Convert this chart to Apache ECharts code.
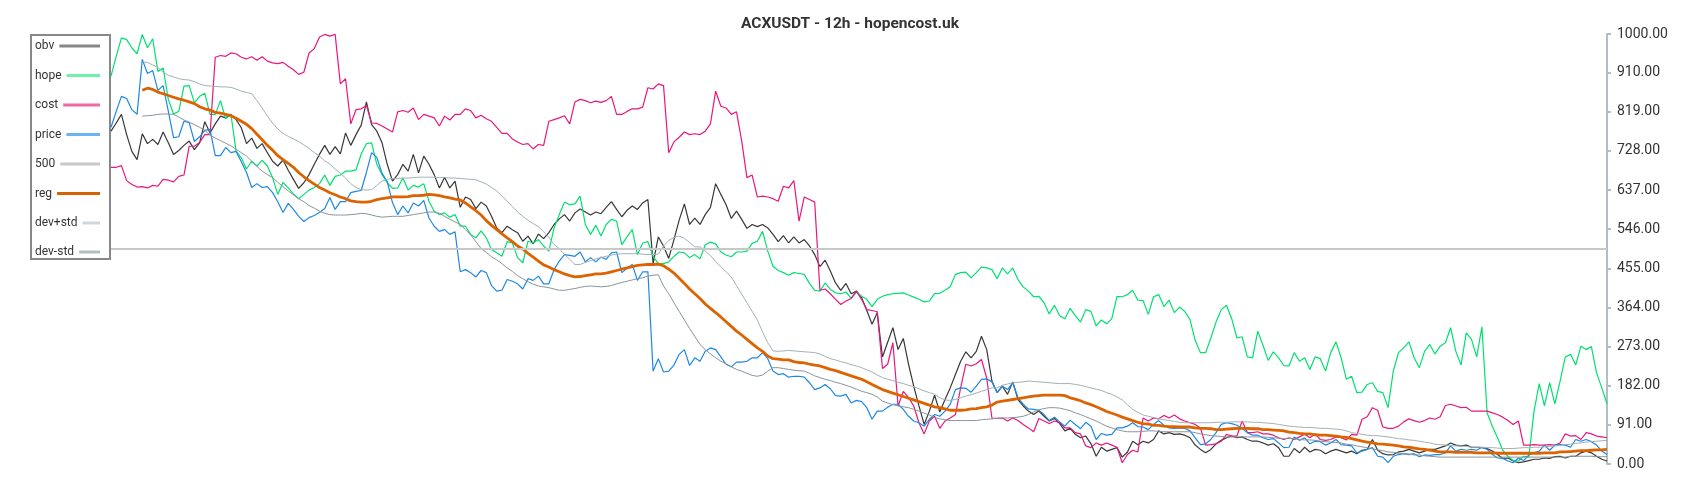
<!DOCTYPE html>
<html>
<head>
<meta charset="utf-8">
<title>ACXUSDT - 12h - hopencost.uk</title>
<script src="https://cdn.jsdelivr.net/npm/echarts@6/dist/echarts.min.js"></script>
<style>
  html, body { margin: 0; padding: 0; background: #fff; }
  #chart { width: 1700px; height: 500px; }
</style>
</head>
<body>
<div id="chart"></div>
<script>
// all series are on the 0..1000 scale, one value per 12h candle (288 candles)
const obv = [
  774,793,813,766,727,708,768,745,755,743,772,747,720,729,741,751,731,747,796,770,791,809,805,813,801,782,745,758,734,745,
  724,704,693,707,683,662,641,654,673,697,720,741,720,738,721,770,741,766,788,842,789,774,747,697,658,673,697,
  681,720,677,716,697,673,642,667,642,658,597,621,615,594,609,600,576,549,538,553,545,538,518,530,512,535,524,538,557,570,
  580,565,584,593,586,579,586,582,597,610,592,575,590,600,592,607,615,466,528,507,478,522,567,605,557,572,
  557,580,597,652,627,603,571,588,569,548,557,552,557,549,534,517,531,514,528,514,522,507,487,459,474,449,421,404,420,396,
  402,387,357,325,352,249,283,317,266,292,232,181,135,92,123,160,121,150,177,208,239,261,247,262,297,266,193,
  166,181,162,191,150,135,123,115,123,111,100,106,94,77,83,69,61,65,47,18,39,30,34,38,16,28,53,45,53,49,
  57,77,70,73,69,70,67,61,44,34,26,34,47,55,61,65,61,63,57,53,53,49,44,47,38,18,
  18,36,26,39,28,34,32,24,30,34,30,26,30,24,32,34,57,32,24,21,22,28,30,34,30,26,30,34,34,38,
  42,49,44,42,44,39,39,38,36,30,22,13,14,7,3,5,8,11,11,14,13,17,18,14,18,18,26,30,26,18,11,7
];
const hope = [
  902,948,991,987,968,954,999,968,989,913,921,848,814,820,879,880,840,855,862,813,813,845,803,814,727,712,686,704,693,706,
  693,666,627,655,642,628,617,627,637,643,652,672,648,669,672,681,681,684,721,745,747,697,673,654,641,642,665,
  637,648,644,652,611,588,580,584,574,580,553,553,534,526,542,526,499,491,483,517,514,480,468,518,514,522,507,495,549,580,
  609,603,605,623,557,534,555,530,557,569,565,510,528,545,487,514,517,483,466,466,470,483,493,491,480,487,
  477,510,516,512,493,486,482,493,493,495,513,518,541,495,460,450,445,439,445,443,441,420,404,402,421,406,398,396,400,385,
  400,390,383,366,383,390,394,396,397,398,393,388,383,377,379,396,397,404,412,441,445,446,433,445,458,456,452,
  431,456,442,456,429,412,402,389,390,375,349,369,345,338,362,345,330,359,355,321,335,326,338,390,389,394,404,381,380,348,
  389,394,366,381,352,365,355,336,287,259,259,293,330,359,369,338,293,296,249,247,309,276,241,261,247,229,
  228,259,239,247,220,249,245,216,259,284,247,197,204,166,167,185,189,169,166,131,216,259,270,284,247,224,262,278,256,274,
  282,317,262,230,305,290,249,319,119,88,61,32,18,8,7,18,16,123,187,135,189,140,193,249,255,230,274,266,273,212,177,140
];
const cost = [
  690,690,694,659,650,644,645,642,648,646,662,660,656,669,672,739,739,748,766,766,946,950,948,956,954,946,942,947,939,947,
  937,933,931,934,925,917,906,911,956,966,993,999,995,999,884,896,791,824,826,834,793,792,786,779,772,819,822,
  818,828,801,813,809,805,786,809,800,813,813,826,822,805,811,803,797,783,769,769,756,749,743,745,733,743,741,797,801,805,
  810,791,842,848,845,840,844,841,845,855,813,813,820,826,826,830,875,872,884,880,724,749,760,772,766,768,
  766,774,791,867,832,828,813,819,751,666,672,621,623,621,617,611,646,642,659,565,621,615,609,404,407,396,383,371,379,385,
  402,383,359,357,354,222,232,282,135,169,155,135,96,70,100,111,83,100,107,115,177,232,228,233,243,200,107,
  106,107,100,107,101,92,84,75,106,100,94,100,96,84,84,73,70,42,38,49,44,49,44,39,3,22,32,28,107,100,
  107,105,113,107,114,105,100,96,92,84,44,45,47,53,69,65,65,100,73,73,75,70,70,67,61,57,
  61,57,63,69,61,70,57,55,57,63,61,56,69,67,104,110,131,125,86,83,83,88,98,105,101,97,101,107,104,110,
  136,139,135,131,132,123,123,123,123,119,115,109,101,92,100,44,44,45,44,44,45,44,49,70,65,66,57,73,70,65,63,61
];
const price = [
  783,820,855,850,824,813,941,908,915,869,880,820,759,761,797,794,750,761,776,778,717,717,736,724,727,703,678,643,652,643,
  645,631,610,585,606,592,576,564,573,578,585,594,620,592,610,610,631,634,636,678,724,713,676,657,608,580,600,
  584,607,600,613,572,553,541,545,534,540,447,452,445,435,450,445,415,402,404,429,425,419,407,431,427,437,419,419,452,472,
  487,485,483,493,470,480,470,481,476,491,493,445,455,464,427,447,447,216,245,214,216,230,255,266,229,247,
  239,262,270,266,249,232,226,237,237,239,247,247,259,245,216,208,210,202,204,204,202,189,173,177,185,175,159,158,162,142,
  148,145,131,104,123,123,132,139,139,127,111,100,96,88,104,115,111,123,139,173,177,176,167,181,197,198,191,
  166,181,173,189,154,139,128,127,125,115,101,109,98,88,102,92,82,97,88,57,71,67,69,84,84,88,96,87,86,80,
  92,101,90,84,83,84,83,77,61,45,47,57,73,92,96,94,90,83,73,67,67,61,57,59,49,38,
  39,63,55,61,47,53,52,44,49,57,45,44,42,26,30,34,38,18,16,3,18,22,24,22,24,17,21,20,22,22,
  26,42,30,34,32,34,32,39,34,22,14,13,7,3,14,8,21,26,30,44,32,44,45,44,39,57,53,57,52,44,30,22
];
const reg = [
  null,null,null,null,null,null,
  869,874,871,865,861,857,853,849,846,842,838,831,826,823,818,816,813,810,804,797,790,780,767,754,
  741,730,717,708,699,690,678,668,659,651,643,637,631,626,621,617,612,610,609,609,611,615,617,619,621,621,621,
  622,624,624,625,627,626,624,621,619,616,614,607,598,589,579,566,555,545,535,526,517,507,500,490,481,472,463,458,452,447,
  442,438,435,436,438,440,442,442,444,447,450,453,456,459,462,463,464,464,465,461,453,444,432,420,407,396,
  385,372,362,352,342,331,320,309,300,290,280,270,262,251,245,244,242,242,238,236,235,232,230,228,224,220,217,213,209,205,
  201,197,191,185,179,173,169,165,161,157,153,149,145,141,137,133,131,128,125,125,125,126,128,129,131,133,137,
  144,146,148,150,152,154,156,158,159,160,160,160,160,159,154,151,147,142,138,133,128,122,118,114,109,105,101,97,94,93,
  90,90,88,87,87,86,86,86,84,83,83,82,80,80,81,82,83,83,83,82,82,80,80,79,78,77,
  74,73,71,70,70,68,67,67,66,65,63,62,59,56,53,51,49,47,46,45,44,42,40,39,37,35,34,32,30,28,
  28,28,27,27,27,27,26,26,26,26,25,25,25,25,25,25,25,25,25,26,26,26,28,28,29,30,31,31,32,33,33,34
];
const devPlus = [
  null,null,null,null,null,null,
  935,934,928,922,911,904,900,896,894,893,889,884,880,879,878,877,877,876,872,867,864,861,845,828,
  809,793,779,769,762,756,750,742,734,724,716,705,697,686,676,665,652,643,638,637,638,648,658,662,664,664,665,
  665,666,667,667,667,667,666,666,665,665,664,663,662,661,656,651,643,635,623,611,599,586,576,567,559,552,540,528,510,501,
  487,476,464,464,469,473,477,480,483,486,488,489,489,489,489,488,487,487,488,507,520,527,530,525,515,505,
  505,495,485,471,459,447,435,415,395,375,355,335,307,282,263,262,263,264,263,262,261,260,259,256,250,245,242,238,235,231,
  228,224,219,214,207,201,197,194,190,187,183,180,175,170,166,162,154,149,148,150,154,158,161,165,169,173,177,
  177,183,186,189,190,191,193,192,191,190,189,188,187,187,187,185,183,180,177,174,171,166,162,156,149,138,127,120,114,111,
  108,105,103,101,99,97,96,96,96,96,96,96,97,97,97,98,98,98,98,97,97,96,95,94,92,90,
  88,87,86,85,85,84,83,83,82,81,80,77,73,71,69,67,66,66,64,63,61,59,58,56,55,53,51,49,46,45,
  44,43,42,42,41,39,39,39,38,38,37,36,36,36,37,38,38,39,39,40,41,42,43,45,46,48,49,51,52,53,54,55
];
const devMinus = [
  null,null,null,null,null,null,
  809,810,811,813,814,814,813,807,800,795,789,783,776,765,758,752,746,740,732,724,716,704,692,681,
  673,666,655,645,635,626,617,610,601,595,588,583,580,579,579,579,580,581,583,582,579,576,574,575,576,576,576,
  578,580,582,584,586,586,583,576,569,563,557,545,533,517,501,492,482,475,466,456,448,438,431,424,418,414,412,410,407,404,
  404,406,408,411,413,414,413,412,413,415,419,422,425,428,431,433,437,439,440,414,396,375,355,335,315,297,
  278,266,256,247,239,233,226,220,216,211,206,204,207,216,224,224,222,220,218,217,216,211,205,201,197,194,190,187,183,179,
  174,169,166,162,156,146,142,138,135,133,131,127,123,118,114,108,105,103,101,101,101,101,101,101,103,104,105,
  106,107,107,108,109,111,115,121,126,129,131,131,130,127,124,119,115,110,105,100,94,88,84,80,77,75,75,75,76,77,
  77,76,75,75,75,75,75,75,73,70,68,66,65,64,63,63,63,63,63,63,63,63,62,61,60,59,
  60,59,57,56,56,55,53,52,51,50,49,46,45,42,40,38,35,33,31,28,27,25,24,23,21,21,19,18,17,16,
  16,16,16,16,16,16,16,16,16,16,16,16,16,16,16,16,16,16,16,16,16,16,16,16,18,18,18,18,18,17,17,17
];
const level500 = 500;
const yMin = 0, yMax = 1000, yStep = 91;

const chart = echarts.init(document.getElementById('chart'));

// name, line colour, line width, legend icon colour
const defs = [
  { name: 'obv',     data: obv,      color: '#383838', width: 1.2, icon: '#888888' },
  { name: 'hope',    data: hope,     color: '#00e070', width: 1.2, icon: '#6ff0aa' },
  { name: 'cost',    data: cost,     color: '#e8177d', width: 1.2, icon: '#f06aa6' },
  { name: 'price',   data: price,    color: '#1e88e5', width: 1.2, icon: '#6ab4f0' },
  { name: '500',     data: [],       color: '#c8c8c8', width: 2,   icon: '#c8c8c8' },
  { name: 'reg',     data: reg,      color: '#dc6300', width: 2.8, icon: '#d86200' },
  { name: 'dev+std', data: devPlus,  color: '#a3b0b6', width: 1,   icon: '#cfd8dc' },
  { name: 'dev-std', data: devMinus, color: '#87959c', width: 1,   icon: '#b0bec5' }
];

const series = defs.map(d => {
  const s = {
    name: d.name,
    type: 'line',
    data: d.data,
    symbol: 'none',
    showSymbol: false,
    connectNulls: false,
    color: d.color,
    lineStyle: { color: d.color, width: d.width },
    emphasis: { disabled: true }
  };
  if (d.name === '500') {
    s.markLine = {
      silent: true,
      symbol: ['none', 'none'],
      label: { show: false },
      lineStyle: { color: d.color, width: d.width, type: 'solid' },
      data: [{ yAxis: level500 }]
    };
  }
  return s;
});

// legend: text left, icon right-aligned at x=100
const ctx = document.createElement('canvas').getContext('2d');
ctx.font = '12px Roboto';
const legendCenters = [47, 76.5, 106, 135.5, 165, 194.5, 224, 253];
const legends = defs.map((d, k) => {
  const tw = ctx.measureText(d.name).width;
  return {
    orient: 'vertical',
    align: 'right',
    left: 35,
    top: legendCenters[k] - 7,
    padding: 0,
    data: [d.name],
    icon: 'rect',
    itemWidth: Math.max(10, 60 - tw),
    itemHeight: 3,
    itemStyle: { color: d.icon, borderWidth: 0 },
    textStyle: { fontFamily: 'Roboto', fontSize: 12, color: '#333' }
  };
});

const option = {
  animation: false,
  backgroundColor: '#ffffff',
  title: {
    text: 'ACXUSDT - 12h - hopencost.uk',
    left: 'center',
    top: 11,
    textStyle: { fontFamily: 'Roboto', fontSize: 15.5, fontWeight: 'bold', color: '#333' }
  },
  tooltip: { trigger: 'axis' },
  legend: legends,
  graphic: [{
    type: 'rect',
    shape: { x: 31, y: 35, width: 79, height: 224 },
    style: { fill: '#ffffff', stroke: '#888888', lineWidth: 2 },
    z: 0
  }],
  grid: { left: 111, right: 93, top: 34, bottom: 36 },
  xAxis: {
    type: 'category',
    boundaryGap: false,
    show: false
  },
  yAxis: {
    type: 'value',
    position: 'right',
    min: yMin,
    max: yMax,
    interval: yStep,
    splitLine: { show: false },
    axisLine: { show: true, lineStyle: { color: '#b0bec5', width: 2 } },
    axisTick: { show: true, length: 4, lineStyle: { color: '#b0bec5', width: 2 } },
    axisLabel: {
      margin: 10,
      color: '#333',
      fontFamily: 'Roboto',
      fontSize: 14,
      formatter: v => v.toFixed(2)
    }
  },
  series: series
};

chart.setOption(option);
</script>
</body>
</html>
